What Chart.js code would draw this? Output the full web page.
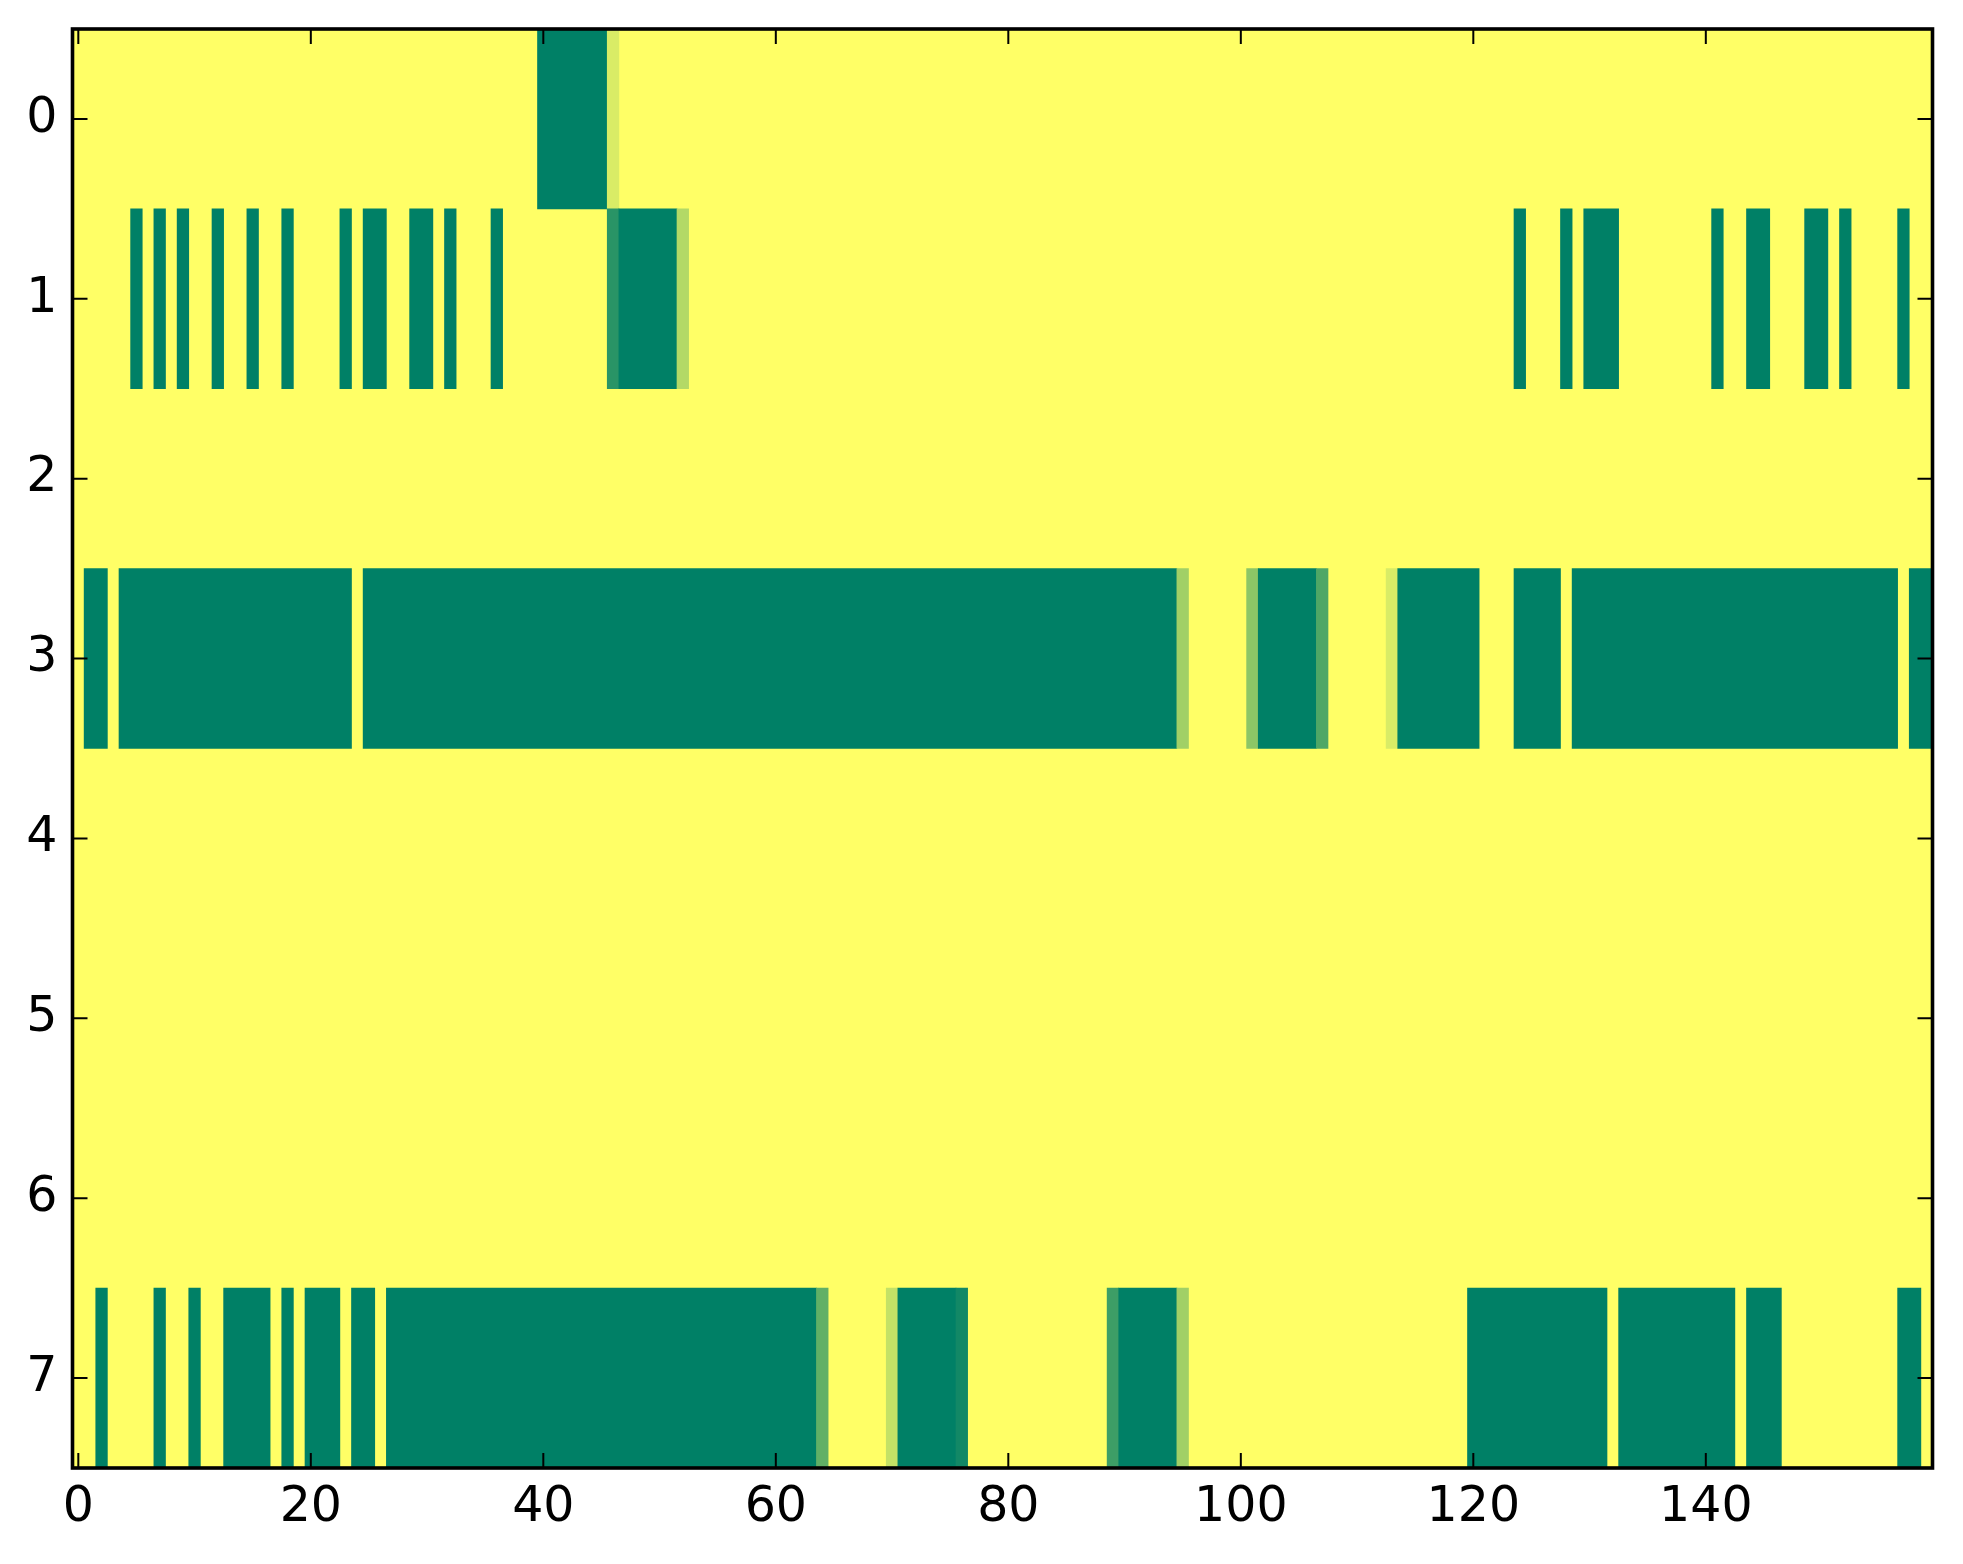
<!DOCTYPE html>
<html lang="en">
  <head>
    <meta charset="UTF-8" />
    <title>Matrix</title>
    <script src="https://cdn.jsdelivr.net/npm/chart.js"></script>
    <style>
      body { margin: 0; background: #ffffff; }
    </style>
  </head>
  <body>
    <canvas id="matrixChart" width="1963" height="1564"></canvas>
    <script>
      // rows of the matrix, top to bottom
      var rowLabels = ["0", "1", "2", "3", "4", "5", "6", "7"];
      var xTicks = [0, 20, 40, 60, 80, 100, 120, 140];
      var nCols = 160;

      // everything not listed is 1 (yellow); runs are [first col, last col, value]
      var row0 = [[40, 45, 0], [46, 46, 0.85]];
      var row1 = [
        [5, 5, 0], [7, 7, 0], [9, 9, 0], [12, 12, 0], [15, 15, 0], [18, 18, 0],
        [23, 23, 0], [25, 26, 0], [29, 30, 0], [32, 32, 0], [36, 36, 0],
        [46, 46, 0.16], [47, 51, 0], [52, 52, 0.7],
        [124, 124, 0], [128, 128, 0], [130, 132, 0], [141, 141, 0],
        [144, 145, 0], [149, 150, 0], [152, 152, 0], [157, 157, 0]
      ];
      var row2 = [];
      var row3 = [
        [1, 2, 0], [4, 23, 0], [25, 94, 0], [95, 95, 0.63],
        [101, 101, 0.55], [102, 106, 0], [107, 107, 0.31],
        [113, 113, 0.85], [114, 120, 0], [124, 127, 0], [129, 156, 0],
        [158, 159, 0]
      ];
      var row4 = [];
      var row5 = [];
      var row6 = [];
      var row7 = [
        [2, 2, 0], [7, 7, 0], [10, 10, 0], [13, 16, 0], [18, 18, 0],
        [20, 22, 0], [24, 25, 0], [27, 63, 0], [64, 64, 0.38],
        [70, 70, 0.77], [71, 75, 0], [76, 76, 0.07],
        [89, 89, 0.24], [90, 94, 0], [95, 95, 0.63],
        [120, 131, 0], [133, 142, 0], [144, 146, 0], [157, 158, 0]
      ];
      var rows = [row0, row1, row2, row3, row4, row5, row6, row7];

      // matplotlib "summer" colormap
      function summer(v) {
        return "rgb(" + Math.round(255 * v) + "," +
          Math.round(255 * (0.5 + 0.5 * v)) + ",102)";
      }

      var cells = [];
      rows.forEach(function (runs, i) {
        runs.forEach(function (r) {
          cells.push({ y: rowLabels[i], x: [r[0] - 0.5, r[1] + 0.5], v: r[2] });
        });
      });

      var tickFont = { family: "DejaVu Sans", size: 49 };

      // yellow background, frame and inward ticks like matplotlib classic
      var framePlugin = {
        id: "frame",
        beforeDatasetsDraw: function (chart) {
          var a = chart.chartArea, c = chart.ctx;
          c.save();
          c.fillStyle = summer(1);
          c.fillRect(a.left, a.top, a.right - a.left, a.bottom - a.top);
          c.restore();
        },
        afterDraw: function (chart) {
          var a = chart.chartArea, c = chart.ctx;
          var xs = chart.scales.x, ys = chart.scales.y;
          var len = 15;
          c.save();
          c.strokeStyle = "#000";
          c.lineWidth = 2;
          c.beginPath();
          xs.ticks.forEach(function (t) {
            var px = xs.getPixelForValue(t.value);
            c.moveTo(px, a.bottom); c.lineTo(px, a.bottom - len);
            c.moveTo(px, a.top); c.lineTo(px, a.top + len);
          });
          ys.ticks.forEach(function (t, i) {
            var py = ys.getPixelForTick(i);
            c.moveTo(a.left, py); c.lineTo(a.left + len, py);
            c.moveTo(a.right, py); c.lineTo(a.right - len, py);
          });
          c.stroke();
          c.lineWidth = 3.6;
          c.strokeRect(a.left, a.top, a.right - a.left, a.bottom - a.top);
          c.restore();
        }
      };

      var ctx = document.getElementById("matrixChart").getContext("2d");
      var chart = new Chart(ctx, {
        type: "bar",
        data: {
          labels: rowLabels,
          datasets: [
            {
              data: cells,
              backgroundColor: function (c) {
                return c.raw ? summer(c.raw.v) : summer(0);
              },
              borderWidth: 0,
              borderSkipped: false,
              barPercentage: 1,
              categoryPercentage: 1
            }
          ]
        },
        options: {
          indexAxis: "y",
          responsive: false,
          animation: false,
          devicePixelRatio: 1,
          layout: { padding: { top: 29, right: 30.5, left: 0, bottom: 0 } },
          plugins: { legend: { display: false }, tooltip: { enabled: false } },
          scales: {
            x: {
              type: "linear",
              position: "bottom",
              min: -0.5,
              max: nCols - 0.5,
              afterBuildTicks: function (s) {
                s.ticks = xTicks.map(function (v) { return { value: v }; });
              },
              afterFit: function (s) {
                s.height = 96;
                s.paddingLeft = 0;
                s.paddingRight = 0;
              },
              grid: { display: false, drawTicks: false },
              border: { display: false },
              ticks: { color: "#000", font: tickFont, padding: 11, maxRotation: 0, autoSkip: false }
            },
            y: {
              type: "category",
              labels: rowLabels,
              offset: true,
              afterFit: function (s) {
                s.width = 72.5;
                s.paddingTop = 0;
                s.paddingBottom = 0;
              },
              grid: { display: false, drawTicks: false },
              border: { display: false },
              ticks: { color: "#000", font: tickFont, padding: 15, autoSkip: false }
            }
          }
        },
        plugins: [framePlugin]
      });
    </script>
  </body>
</html>
